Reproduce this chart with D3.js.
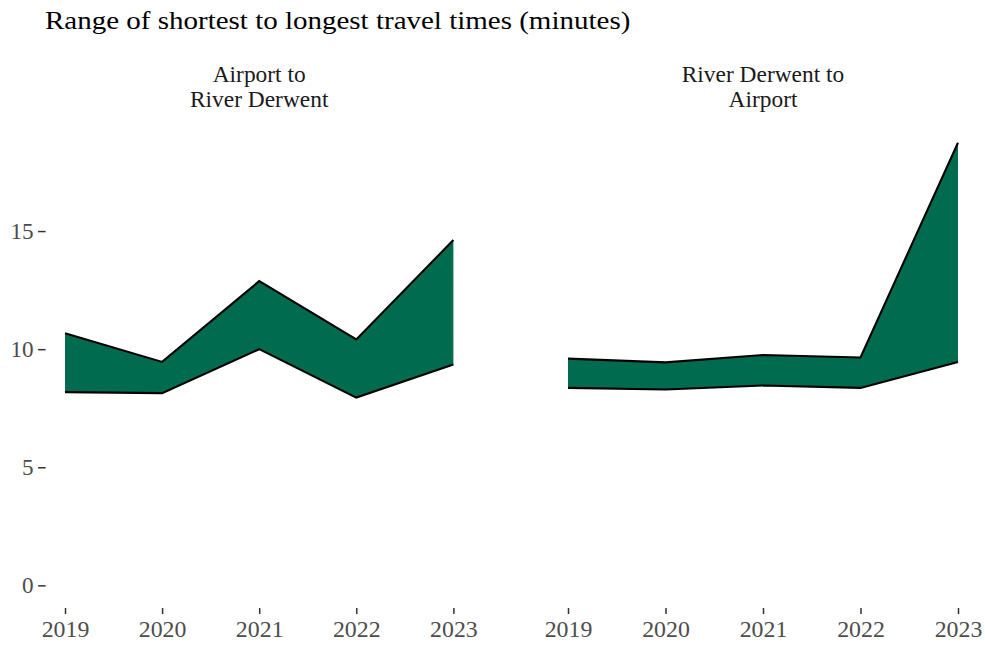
<!DOCTYPE html>
<html><head><meta charset="utf-8">
<script src="https://cdn.jsdelivr.net/npm/d3@7"></script>
<style>body{margin:0;background:#fff}</style>
</head><body>
<svg id="c" width="985" height="653"></svg>
<script>
const years = [2019, 2020, 2021, 2022, 2023];
const panelTitles = [["Airport to", "River Derwent"], ["River Derwent to", "Airport"]];
const minA = [8.18, 8.14, 10.0, 7.95, 9.35];
const maxA = [10.67, 9.46, 12.88, 10.41, 14.62];
const minB = [8.36, 8.29, 8.46, 8.36, 9.46];
const maxB = [9.6, 9.44, 9.75, 9.65, 18.74];
const yTicks = [0, 5, 10, 15];
const title = "Range of shortest to longest travel times (minutes)";

const svg = d3.select("#c");
const font = "'Liberation Serif','Times New Roman',serif";

// horizontally stretch text to mimic reference rendering width
function stretch(sel, k) {
  sel.each(function () {
    const w = this.getComputedTextLength();
    d3.select(this).attr("textLength", w * k).attr("lengthAdjust", "spacingAndGlyphs");
  });
}

const tt = svg.append("text").attr("x", 45).attr("y", 29).attr("font-family", font)
  .attr("font-size", 26).attr("fill", "#000").text(title);
stretch(tt, 1.115);

const yMax = d3.max([...maxA, ...maxB]);
const pad = yMax * 0.05;
const y = d3.scaleLinear().domain([0 - pad, yMax + pad]).range([607.5, 120.6]);

const panels = [
  {x0: 45.6, x1: 472.8, mn: minA, mx: maxA, t: panelTitles[0], showY: true},
  {x0: 548.5, x1: 977.5, mn: minB, mx: maxB, t: panelTitles[1], showY: false}
];

panels.forEach(p => {
  const x = d3.scaleLinear().domain([2019 - 0.2, 2023 + 0.2]).range([p.x0, p.x1]);
  const g = svg.append("g");
  const data = years.map((yr, i) => ({yr, lo: p.mn[i], hi: p.mx[i]}));
  g.append("path").datum(data)
    .attr("d", d3.area().x(d => x(d.yr)).y0(d => y(d.lo)).y1(d => y(d.hi)))
    .attr("fill", "#006b4f");
  g.append("path").datum(data)
    .attr("d", d3.line().x(d => x(d.yr)).y(d => y(d.hi)))
    .attr("fill", "none").attr("stroke", "#000").attr("stroke-width", 2.1);
  g.append("path").datum(data)
    .attr("d", d3.line().x(d => x(d.yr)).y(d => y(d.lo)))
    .attr("fill", "none").attr("stroke", "#000").attr("stroke-width", 2.1);

  const xa = g.append("g").attr("transform", "translate(0,608)")
    .call(d3.axisBottom(x).tickValues(years).tickFormat(d3.format("d")).tickSize(6).tickPadding(7));
  xa.select(".domain").remove();
  xa.selectAll("line").attr("stroke", "#333").attr("stroke-width", 1.5);
  xa.selectAll("text").attr("font-family", font).attr("font-size", 22.5).attr("fill", "#4d4d4d");
  stretch(xa.selectAll("text"), 1.06);

  if (p.showY) {
    const ya = g.append("g").attr("transform", `translate(${p.x0},0)`)
      .call(d3.axisLeft(y).tickValues(yTicks).tickSize(7.5).tickPadding(4.5));
    ya.select(".domain").remove();
    ya.selectAll("line").attr("stroke", "#333").attr("stroke-width", 1.5);
    ya.selectAll("text").attr("font-family", font).attr("font-size", 22.5).attr("fill", "#4d4d4d");
    stretch(ya.selectAll("text"), 1.03);
  }

  const cx = (p.x0 + p.x1) / 2;
  p.t.forEach((line, i) => {
    const t = svg.append("text").attr("x", cx).attr("y", 81.7 + i * 25).attr("text-anchor", "middle")
      .attr("font-family", font).attr("font-size", 22.5).attr("fill", "#1a1a1a").text(line);
    stretch(t, 1.04);
  });
});
</script>
</body></html>
